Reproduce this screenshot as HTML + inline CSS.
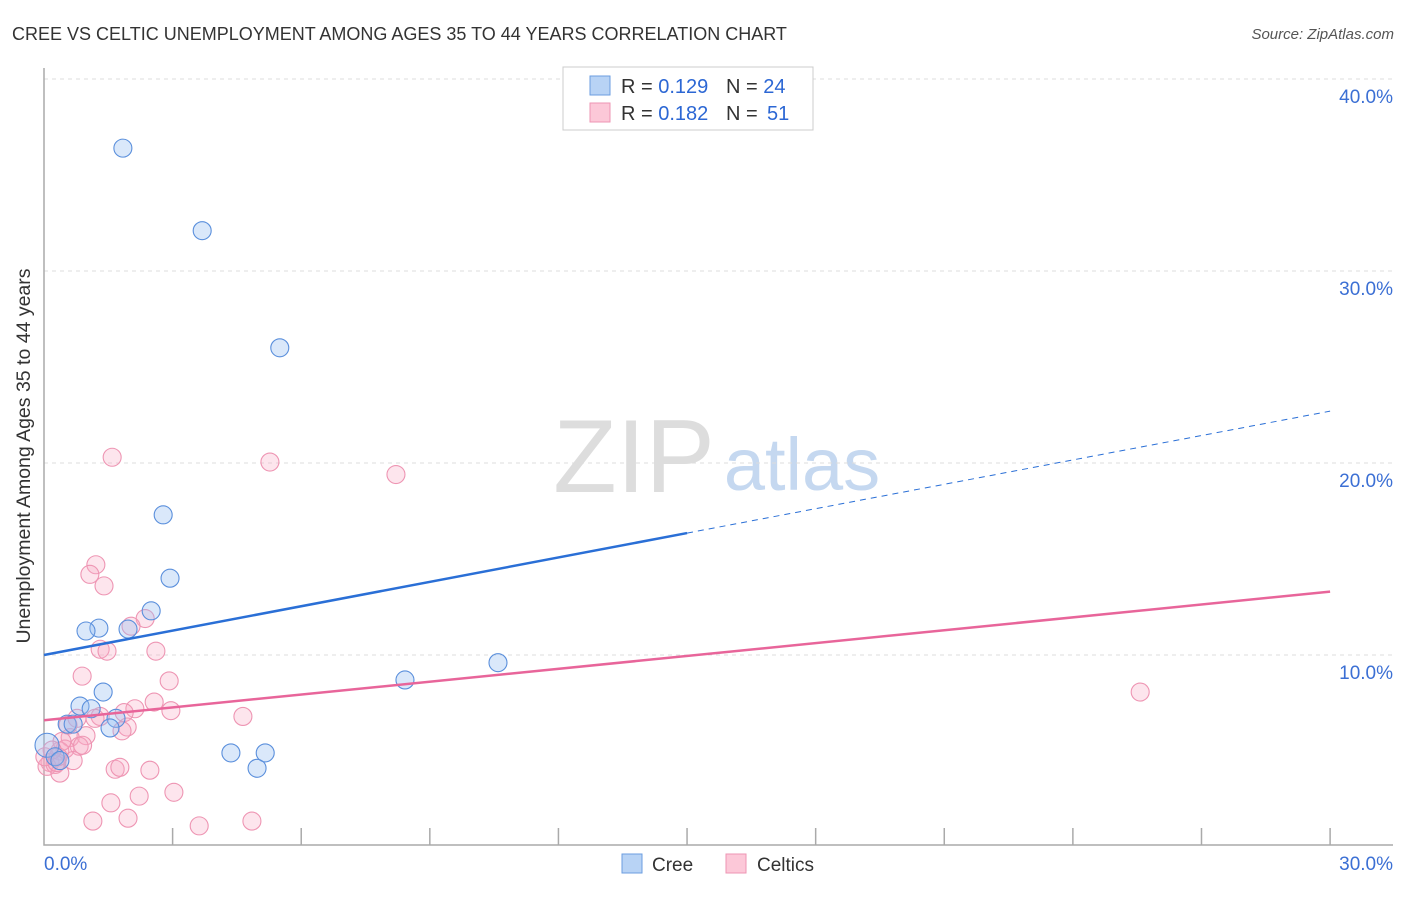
<!DOCTYPE html>
<html><head><meta charset="utf-8"><style>
body{margin:0;background:#fff;font-family:"Liberation Sans",sans-serif}
svg text{font-family:"Liberation Sans",sans-serif}
</style></head><body>
<svg width="1406" height="892" xmlns="http://www.w3.org/2000/svg">
<text x="12" y="40" font-size="18" fill="#333">CREE VS CELTIC UNEMPLOYMENT AMONG AGES 35 TO 44 YEARS CORRELATION CHART</text>
<text x="1394" y="39" font-size="15" fill="#555" font-style="italic" text-anchor="end">Source: ZipAtlas.com</text>
<text x="30" y="456" font-size="19.5" fill="#333" text-anchor="middle" transform="rotate(-90 30 456)">Unemployment Among Ages 35 to 44 years</text>
<g><text x="634" y="492" font-size="104" fill="#ddd" font-family="Liberation Serif" text-anchor="middle">ZIP</text><text x="802" y="490" font-size="74" fill="#c5d8f0" text-anchor="middle">atlas</text></g>
<g id="grid"></g><g id="axes"></g><g id="pts"></g><g id="lines"></g>
<g>
<rect x="563" y="67" width="250" height="63" fill="#fff" stroke="#ccc"/>
<rect x="590" y="76" width="20" height="19" fill="#b8d3f5" stroke="#6b9ee0"/>
<rect x="590" y="103" width="20" height="19" fill="#fcc8d8" stroke="#ee95b3"/>
<text x="621" y="93" font-size="20" fill="#333">R = <tspan fill="#2c67d4">0.129</tspan></text>
<text x="726" y="93" font-size="20" fill="#333">N = <tspan fill="#2c67d4">24</tspan></text>
<text x="621" y="120" font-size="20" fill="#333">R = <tspan fill="#2c67d4">0.182</tspan></text>
<text x="726" y="120" font-size="20" fill="#333">N = <tspan x="767" fill="#2c67d4">51</tspan></text>
</g>
<g>
<rect x="622" y="854" width="20" height="19" fill="#b8d3f5" stroke="#6b9ee0"/><text x="652" y="871" font-size="19" fill="#333">Cree</text>
<rect x="726" y="854" width="20" height="19" fill="#fcc8d8" stroke="#ee95b3"/><text x="757" y="871" font-size="19" fill="#333">Celtics</text>
</g>
</svg>
<script>
const yTicks=[10,20,30,40];
const yTickLabels=["10.0%","20.0%","30.0%","40.0%"];
const xEdgeLabels=["0.0%","30.0%"];
const creeX=[1.84,3.69,5.5,2.78,2.94,2.5,1.28,0.98,1.96,1.38,0.84,1.1,1.68,0.54,0.68,1.54,4.36,5.16,4.97,8.42,10.59,0.07,0.26,0.37];
const creeY=[36.4,32.1,26.0,17.3,14.0,12.3,11.4,11.25,11.35,8.07,7.34,7.2,6.7,6.4,6.4,6.2,4.9,4.9,4.1,8.7,9.6,5.3,4.7,4.5];
const celtX=[1.59,5.27,8.21,1.21,1.07,1.4,2.36,2.03,1.31,1.47,2.61,0.89,2.92,2.57,2.12,2.96,1.87,1.31,4.64,0.77,1.94,1.82,0.98,0.61,0.82,0.49,0.37,0.68,0.14,0.26,0.07,0.37,1.66,1.77,2.47,2.22,1.56,3.03,1.14,1.96,3.62,4.85,25.57,0.42,0.33,1.19,0.56,0.02,0.19,0.3,0.9];
const celtY=[20.3,20.05,19.4,14.7,14.2,13.6,11.9,11.5,10.3,10.2,10.2,8.9,8.65,7.55,7.2,7.1,7.0,6.8,6.8,6.7,6.25,6.05,5.8,5.7,5.25,5.1,5.0,4.5,4.4,4.3,4.2,3.85,4.05,4.15,4.0,2.65,2.3,2.85,1.35,1.5,1.1,1.35,8.07,5.5,4.7,6.7,6.35,4.7,5.05,4.4,5.3];
const creeFit=[10.0,22.7];
const celtFit=[6.6,13.3];
const X=v=>44+v*42.87, Y=v=>847-v*19.2;
const NS="http://www.w3.org/2000/svg";
function mk(p,t,a){const e=document.createElementNS(NS,t);for(const k in a)e.setAttribute(k,a[k]);document.getElementById(p).appendChild(e);return e;}
yTicks.forEach((t,i)=>{
 let l=mk('grid','line',{x1:44,x2:1393,y1:Y(t),y2:Y(t),stroke:'#ddd','stroke-dasharray':'4,4'});
 
 
 let tx=mk('grid','text',{x:1393,y:Y(t)+24,'font-size':19,fill:'#3b6fd4','text-anchor':'end'});tx.textContent=yTickLabels[i];
 
 
});
let ax=mk('axes','path',{d:'M44,68V845H1393',fill:'none',stroke:'#aaa','stroke-width':1.5});


for(let i=1;i<=10;i++){let t=mk('axes','line',{x1:X(i*3),x2:X(i*3),y1:828,y2:845,stroke:'#aaa','stroke-width':1.5});
 
 }
let xl0=mk('axes','text',{x:44,y:870,'font-size':19,fill:'#3b6fd4'});xl0.textContent=xEdgeLabels[0];


let xl1=mk('axes','text',{x:1393,y:870,'font-size':19,fill:'#3b6fd4','text-anchor':'end'});xl1.textContent=xEdgeLabels[1];


celtX.forEach((v,i)=>{let c=mk('pts','circle',{cx:X(v),cy:Y(celtY[i]),r:9,fill:'rgba(248,170,195,0.3)',stroke:'#ee95b3','stroke-width':1.1});
 
 });
creeX.forEach((v,i)=>{let c=mk('pts','circle',{cx:X(v),cy:Y(creeY[i]),r:i==21?12:9,fill:'rgba(150,190,240,0.35)',stroke:'#5a8fdc','stroke-width':1.1});
 
 });
const cm=v=>creeFit[0]+(creeFit[1]-creeFit[0])*v/30;
let l1=mk('lines','line',{x1:X(0),y1:Y(cm(0)),x2:X(15),y2:Y(cm(15)),stroke:'#2a6fd6','stroke-width':2.5});


let l2=mk('lines','line',{x1:X(15),y1:Y(cm(15)),x2:X(30),y2:Y(cm(30)),stroke:'#2a6fd6','stroke-width':1,'stroke-dasharray':'6,5'});


let l3=mk('lines','line',{x1:X(0),y1:Y(celtFit[0]),x2:X(30),y2:Y(celtFit[1]),stroke:'#e8659a','stroke-width':2.5});


</script>
</body></html>
